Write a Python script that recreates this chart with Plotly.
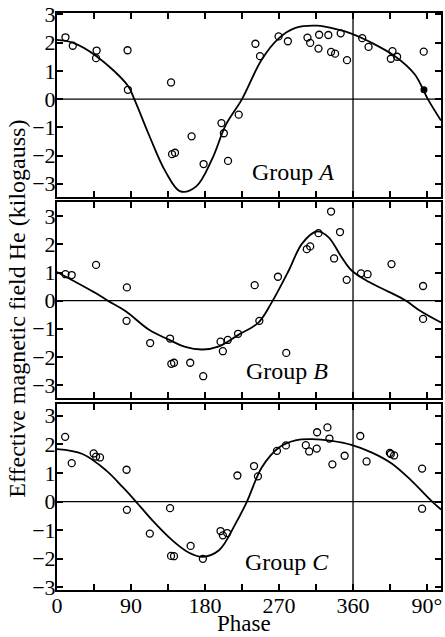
import plotly.graph_objects as go

# ---------------- data ----------------
# Group A observations
a_phase = [10.3, 19.2, 48.2, 47.5, 85.8, 86.2, 138.7, 139.9, 143.5, 163.7, 178.3, 200.0,
           202.9, 208.0, 221.0, 241.3, 246.9, 269.5, 280.8, 304.6, 307.9, 318.0, 318.8,
           330.0, 333.3, 338.2, 345.0, 352.7, 371.2, 378.9, 408.0, 406.0, 413.6, 446.0]
a_field = [2.19, 1.89, 1.72, 1.45, 1.73, 0.33, 0.59, -1.95, -1.90, -1.32, -2.30, -0.85,
           -1.21, -2.19, -0.55, 1.96, 1.52, 2.22, 2.05, 2.18, 1.99, 1.79, 2.28,
           2.27, 1.67, 1.61, 2.33, 1.38, 2.16, 1.85, 1.70, 1.43, 1.50, 1.68]
a_filled_phase = [446.3]
a_filled_field = [0.33]
# Group A fitted curve
a_curve_phase = [0, 19, 48, 86, 94, 112, 132, 150, 169, 189, 205, 225, 249, 270, 290,
                 316, 342, 358, 379, 411, 435, 451, 467]
a_curve_field = [2.10, 2.00, 1.52, 0.48, 0.0, -1.28, -2.57, -3.27, -3.10, -2.10, -0.93,
                 0.0, 1.40, 2.16, 2.52, 2.60, 2.46, 2.32, 2.05, 1.52, 0.88, 0.0, -0.76]

# Group B observations
b_phase = [10.3, 17.9, 47.5, 85.0, 84.6, 113.3, 137.5, 139.0, 142.3, 162.0, 177.8, 198.9,
           201.7, 207.7, 220.2, 246.1, 240.4, 268.7, 278.8, 303.8, 307.9, 318.0, 333.3,
           344.2, 337.0, 352.3, 369.7, 377.7, 406.8, 445.2, 445.2]
b_field = [0.94, 0.91, 1.27, 0.47, -0.72, -1.51, -1.35, -2.25, -2.21, -2.21, -2.69, -1.46,
           -1.80, -1.40, -1.18, -0.72, 0.55, 0.85, -1.86, 1.83, 1.93, 2.40, 3.17,
           2.44, 1.50, 0.74, 0.97, 0.94, 1.30, 0.52, -0.65]
b_curve_phase = [0, 47.5, 61.6, 84, 112, 136, 156, 177, 197, 221, 245, 261, 282, 298,
                 316, 330, 346, 358, 379, 403, 423, 443, 467]
b_curve_field = [1.02, 0.26, 0.0, -0.39, -1.04, -1.39, -1.65, -1.74, -1.63, -1.21, -0.78,
                 -0.07, 1.08, 2.03, 2.46, 2.26, 1.55, 1.08, 0.67, 0.32, 0.02, -0.39, -0.78]

# Group C observations
c_phase = [9.9, 17.9, 44.6, 47.5, 52.3, 84.6, 85.0, 112.9, 137.5, 138.7, 142.3, 162.5,
           177.4, 198.9, 201.7, 206.9, 219.4, 239.6, 244.4, 267.5, 278.4, 302.6, 306.7,
           316.3, 315.9, 328.9, 331.3, 334.9, 349.8, 368.8, 376.5, 404.8, 406.0, 410.0,
           444.0, 444.0]
c_field = [2.26, 1.34, 1.68, 1.57, 1.54, 1.11, -0.29, -1.12, -0.23, -1.90, -1.91, -1.55,
           -2.00, -1.03, -1.18, -1.10, 0.91, 1.24, 0.88, 1.77, 1.96, 1.97, 1.75,
           2.42, 1.85, 2.59, 2.20, 1.30, 1.60, 2.29, 1.40, 1.70, 1.66, 1.61,
           1.15, -0.25]
c_curve_phase = [0, 31, 60, 80, 96, 116, 140, 160, 177, 197, 217, 231, 249, 270, 290,
                 310, 334, 358, 383, 407, 431, 455, 467]
c_curve_field = [1.83, 1.66, 1.08, 0.50, 0.0, -0.66, -1.35, -1.78, -1.93, -1.70, -0.78,
                 0.0, 1.19, 1.89, 2.14, 2.18, 2.12, 1.98, 1.71, 1.33, 0.73, 0.03, -0.28]

x_tick_vals = [0, 45, 90, 135, 180, 225, 270, 315, 360, 405, 450]
x_tick_text = ["0", "", "90", "", "180", "", "270", "", "360", "", "90°"]
y_tick_vals = [-3, -2, -1, 0, 1, 2, 3]
cycle_line = 360
group_names = ["Group <i>A</i>", "Group <i>B</i>", "Group <i>C</i>"]
y_ranges = [[-3.47, 3.05], [-3.46, 3.5], [-3.09, 3.4]]
domains = [[0.681, 1.0], [0.333, 0.672], [0.0, 0.322]]

FONT = "Liberation Serif"
fig = go.Figure()

groups = [(a_phase, a_field, a_curve_phase, a_curve_field),
          (b_phase, b_field, b_curve_phase, b_curve_field),
          (c_phase, c_field, c_curve_phase, c_curve_field)]

for i, (px, py, cx, cy) in enumerate(groups):
    xa = "x" if i == 0 else f"x{i+1}"
    ya = "y" if i == 0 else f"y{i+1}"
    fig.add_trace(go.Scatter(x=cx, y=cy, mode="lines", xaxis=xa, yaxis=ya,
                             line=dict(color="black", width=1.8, shape="spline", smoothing=1.0),
                             showlegend=False, hoverinfo="skip"))
    fig.add_trace(go.Scatter(x=px, y=py, mode="markers", xaxis=xa, yaxis=ya,
                             marker=dict(symbol="circle-open", size=7, color="black",
                                         line=dict(width=1.3, color="black")),
                             showlegend=False))
    # zero line and 360 line
    fig.add_shape(type="line", xref=f"{xa} domain", yref=ya, x0=0, x1=1, y0=0, y1=0,
                  line=dict(color="black", width=1.3), layer="below")
    fig.add_shape(type="line", xref=xa, yref=f"{ya} domain", x0=cycle_line, x1=cycle_line,
                  y0=0, y1=1, line=dict(color="black", width=1.3), layer="below")

fig.add_trace(go.Scatter(x=a_filled_phase, y=a_filled_field, mode="markers",
                         marker=dict(symbol="circle", size=7, color="black"),
                         showlegend=False))

group_pos = [(294, 0.135), (288, 0.137), (288, 0.15)]
for i in range(3):
    xa = "x" if i == 0 else f"x{i+1}"
    ya = "y" if i == 0 else f"y{i+1}"
    fig.add_annotation(text=group_names[i], xref=f"{xa} domain", yref=f"{ya} domain",
                       x=(group_pos[i][0] - 57) / 386, y=group_pos[i][1],
                       xanchor="center", yanchor="middle",
                       showarrow=False, font=dict(family=FONT, size=24, color="black"))

axis_common = dict(showline=True, linewidth=2, linecolor="black", mirror="ticks",
                   ticks="inside", ticklen=6, tickwidth=1.5, tickcolor="black",
                   showgrid=False, zeroline=False, ticklabeloverflow="allow",
                   tickfont=dict(family=FONT, size=22, color="black"))

layout = dict(width=445, height=637, margin=dict(l=57, r=2, t=10, b=47),
              plot_bgcolor="white", paper_bgcolor="white", showlegend=False)
for i in range(3):
    xk = "xaxis" if i == 0 else f"xaxis{i+1}"
    yk = "yaxis" if i == 0 else f"yaxis{i+1}"
    ya = "y" if i == 0 else f"y{i+1}"
    xa = "x" if i == 0 else f"x{i+1}"
    layout[xk] = dict(axis_common, range=[0, 467], anchor=ya, domain=[0, 1],
                      tickvals=x_tick_vals, ticktext=x_tick_text,
                      showticklabels=(i == 2), ticklabelstandoff=-5)
    layout[yk] = dict(axis_common, range=y_ranges[i], anchor=xa, domain=domains[i],
                      tickvals=y_tick_vals, ticklabelstandoff=-5)
fig.update_layout(**layout)

fig.add_annotation(text="Phase", xref="paper", yref="paper", x=(245 - 57) / 386,
                   y=-(624 - 590) / 580, xanchor="center", yanchor="middle", showarrow=False,
                   font=dict(family=FONT, size=23, color="black"))
fig.add_annotation(text="Effective magnetic field He (kilogauss)", xref="paper", yref="paper",
                   x=(17 - 57) / 386, y=(590 - 307) / 580, textangle=-90,
                   xanchor="center", yanchor="middle",
                   showarrow=False, font=dict(family=FONT, size=24, color="black"))

fig.write_html("out.html")
